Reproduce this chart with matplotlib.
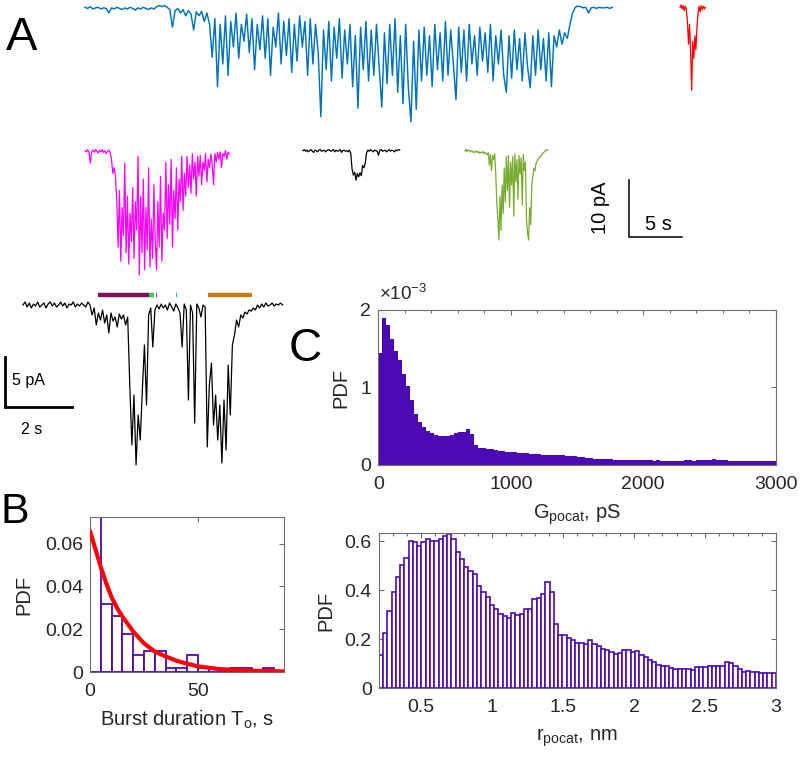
import numpy as np
import matplotlib
matplotlib.use('Agg')
import matplotlib.pyplot as plt
from matplotlib.ticker import MultipleLocator

plt.rcParams['font.family'] = ['Liberation Sans', 'DejaVu Sans']
plt.rcParams['mathtext.fontset'] = 'custom'
plt.rcParams['mathtext.rm'] = 'Liberation Sans'
plt.rcParams['mathtext.it'] = 'Liberation Sans:italic'
plt.rcParams['mathtext.bf'] = 'Liberation Sans:bold'

# ---------------- DATA ----------------
# Panel A, top row traces: current (pA), sampled at fixed dt (s)
blue_dt = 0.25
blue_pA = [
    0.0, -0.2, 0.1, -0.3, -0.1, 0.0, -0.3, -0.1, -0.2, -1.0, -0.1, -0.3,
    0.0, -0.2, -0.4, -0.1, -0.3, 0.0, -0.2, -0.5, -0.1, -0.3, 0.0, -0.2,
    -0.4, -0.1, -0.3, 0.1, 0.3, 0.1, 0.3, 0.0, -0.4, -3.5, -0.6, -0.2,
    -1.0, -0.4, -1.5, -0.6, -1.2, -4.0, -0.8, -1.5, -0.7, -2.5, -1.0, -3.0,
    -8.8, -2.0, -14.0, -3.0, -10.0, -1.5, -12.0, -2.5, -7.0, -1.0, -9.0, -3.0,
    -6.0, -1.2, -8.0, -2.0, -11.0, -3.0, -7.5, -1.5, -9.0, -2.0, -12.0, -3.5,
    -7.0, -1.0, -10.0, -2.5, -8.5, -2.0, -11.5, -3.0, -9.5, -1.5, -7.0, -2.5,
    -12.0, -2.0, -10.0, -3.0, -8.0, -19.3, -4.0, -11.0, -2.5, -13.0, -3.5, -9.0,
    -2.0, -12.5, -4.0, -10.0, -3.0, -14.0, -5.0, -17.8, -3.5, -11.0, -2.5, -13.0,
    -4.0, -12.0, -3.0, -10.5, -17.6, -4.5, -13.5, -3.0, -12.0, -2.0, -15.0, -5.0,
    -17.0, -3.0, -14.0, -20.2, -6.0, -18.0, -4.0, -13.0, -3.5, -12.0, -5.0, -14.0,
    -3.0, -11.0, -4.5, -13.0, -2.5, -12.0, -4.0, -10.0, -16.3, -3.5, -11.5, -4.0,
    -13.0, -3.0, -10.0, -5.0, -12.0, -3.5, -9.5, -4.5, -11.5, -3.0, -13.0, -5.0,
    -10.0, -4.0, -12.0, -15.0, -5.0, -12.5, -4.0, -11.0, -5.5, -13.0, -4.5, -10.5,
    -14.2, -5.0, -12.0, -4.0, -11.0, -5.5, -13.0, -4.5, -14.0, -5.0, -7.0, -4.0,
    -6.5, -4.5, -5.5, -3.0, -1.0, 0.0, 0.2, 0.1, -0.1, 0.0, -1.0, -0.1,
    0.0, -0.2, 0.0, -0.1, -0.1, 0.0, -0.2, 0.0,
]

red_dt = 0.1
red_pA = [0.0, 0.4, -0.3, 0.3, -0.6, 0.2, -0.5, -2.5, -6.5, -3.0, -8.0, -14.6,
          -6.0, -9.0, -5.0, -7.5, -3.5, -1.0, 0.2, -0.8, 0.3, -0.4, 0.2, -0.3, 0.0]

magenta_dt = 0.125
magenta_pA = [
    0.0, -0.2, 0.2, -0.3, -2.2, -0.1, 0.1, -0.3, 0.2, -0.1, -0.4, 0.1, -0.2, 0.2,
    -0.3, 0.0, -0.5, -0.1, 0.1, -0.3,
    -1.5, -4.0, -3.0, -4.5,
    -9.0, -17.0, -7.0, -19.5, -10.0, -15.0, -2.2, -18.0, -8.0, -20.0, -11.0, -16.0,
    -6.5, -19.0, -9.0, -14.0, -1.0,
    -21.9, -8.0, -18.0, -5.0, -21.0, -10.0, -17.5, -3.0, -20.5, -12.0, -19.0, -6.0,
    -16.0, -21.0, -9.0, -17.0, -4.5, -19.5, -11.0, -14.0,
    -2.0, -15.5, -6.0, -13.0, -1.5, -17.0, -7.0, -12.0, -3.0, -14.0, -5.0, -9.0,
    -1.0, -10.5, -4.0,
    -8.0, -1.0, -6.5, -2.5, -7.5, -0.5, -5.0, -2.0, -8.0, -1.0, -4.5, -0.8, -6.0,
    -2.0, -3.5, -0.5, -5.5, -1.5, -3.0, -0.6,
    -2.5, -6.0, -0.5, -2.0, -0.3, -1.5, -0.2, -3.0, -0.5, -1.0, 0.0, -1.5, -0.3, -0.6,
]

black_dt = 0.125
black_pA = [
    0.0, 0.2, -0.1, 0.1, -0.2, 0.0, 0.2, -0.1, -0.3, 0.1, 0.0, -0.2, 0.1, 0.2,
    -0.1, 0.0, 0.1, -0.2, 0.0, 0.2, 0.1, -0.1, 0.0, 0.2, -0.2, 0.1, -0.1, 0.0,
    0.2, -0.3, 0.0, 0.1, -0.1, 0.0, -0.2, 0.1, -0.4,
    -3.2, -4.3, -3.8, -5.2, -4.0, -4.6, -3.9, -4.4, -2.6, -3.0, -2.2,
    -0.3, 0.1, -0.1, 0.2, 0.0, -0.2, 0.1, 0.0, -0.1, -0.8, 0.1, 0.2, -0.1, 0.0,
    0.1, -0.2, 0.0, 0.2, -0.1, 0.1, 0.0, -0.2, 0.1, 0.0, 0.2, 0.1,
]

green_dt = 0.1
green_pA = [
    0.0, 0.3, -0.1, 0.2, 0.0, -0.2, 0.1, 0.0, -0.3, -0.1,
    -0.2, 0.0, -0.3, -0.1, -0.4, -0.2, -0.3, -0.1, -0.5, -0.2,
    -0.4, -0.7, -0.3, -2.5, -0.6, -3.5, -0.8, -1.5, -0.5, -4.0,
    -9.0, -12.0, -15.7, -8.0, -14.0, -6.0, -11.0, -3.0, -9.0, -1.0,
    -7.0, -0.8, -10.0, -2.0, -6.0, -1.0, -11.5, -0.5, -5.5, -1.5,
    -8.5, -0.8, -4.0, -1.2, -9.5, -0.6, -3.5, -2.0, -12.0, -14.5,
    -15.7, -10.0, -13.0, -6.0, -4.5, -3.0, -3.5, -2.2, -1.8, -1.5,
    -1.2, -1.0, -0.8, -0.5, -0.3, -0.1, 0.1, 0.2, 0.1,
]

# Panel A, bottom-left trace
burst_dt = 0.0625
burst_pA = [
    0.0, 0.3, -0.2, 0.2, -0.3, 0.1, -0.1, 0.3, -0.2, 0.0, 0.2, -0.3, 0.1, 0.3,
    -0.1, 0.2, -0.2, 0.0, 0.3, -0.1, 0.2, -0.3, 0.1, 0.0, 0.3, -0.2, 0.1, -0.1,
    0.2, 0.0, -0.2, 0.3, 0.0,
    -1.0, -0.3, -2.0, -0.8, -1.5, -0.5, -1.8, -1.0, -2.8, -0.8, -1.6, -1.2, -2.2,
    -0.9, -1.4, -1.0, -2.0, -1.2,
    -8.0, -14.0, -9.0, -16.0, -11.0, -13.5, -8.5, -4.0, -10.0,
    -1.0, -0.3,
    -4.2, -0.5, 0.0, -0.4, 0.1, -0.3, 0.0, -0.5, 0.2, -0.2, -0.6, 0.1, -0.3, -0.8,
    -4.2, 0.1, -0.5, -9.5, 0.0, -0.8, -11.8, 0.1, -0.3, -1.2, 0.0, -0.2,
    -14.2, -8.0, -5.8, -12.0, -9.0, -13.5, -10.0, -15.8, -9.5, -14.5, -6.0, -11.0,
    -4.0, -3.0, -1.5, -2.2,
    -1.0, -1.3, -0.7, -0.9, -0.5, -0.6, -0.3, -0.5, 0.0, -0.3, 0.1, -0.2, 0.2,
    -0.1, 0.0, 0.2, -0.1, 0.1, 0.0, 0.2, 0.0,
]
seg_start = [2.24, 3.76, 3.97, 4.56, 5.52]
seg_end = [3.76, 3.91, 4.01, 4.60, 6.84]
seg_color = ['#7E1060', '#33CC44', '#A030E0', '#30B4CC', '#CC7A1E']

# Panel B: burst duration histogram
B_bin_width = 5
B_pdf = [0.073, 0.032, 0.026, 0.018, 0.008, 0.010, 0.010, 0.002, 0.002, 0.008,
         0.002, 0.002, 0.0, 0.002, 0.002, 0.0, 0.002, 0.0]
B_fit_x = [0, 2.5, 5, 7.5, 10, 12.5, 15, 20, 25, 30, 35, 40, 45, 50, 55, 60, 70, 80, 90]
B_fit_y = [0.0658, 0.0574, 0.049, 0.0415, 0.035, 0.030, 0.026, 0.019, 0.0135,
           0.0097, 0.0074, 0.0054, 0.004, 0.0028, 0.0021, 0.0015, 0.0009, 0.0006, 0.0004]

# Panel C top: G_pocat PDF (x1e-3), 30 pS bins from 0 to 3000
G_bin_width = 30
G_pdf_e3 = [
    1.45, 1.90, 1.80, 1.62, 1.47, 1.36, 1.18, 1.02, 0.84, 0.66,
    0.56, 0.49, 0.44, 0.41, 0.39, 0.38, 0.37, 0.375, 0.39, 0.41,
    0.42, 0.43, 0.46, 0.40, 0.26, 0.225, 0.22, 0.21, 0.20, 0.19,
    0.18, 0.175, 0.172, 0.17, 0.168, 0.16, 0.158, 0.15, 0.145, 0.14,
    0.138, 0.135, 0.13, 0.128, 0.13, 0.125, 0.128, 0.12, 0.118, 0.11,
    0.105, 0.098, 0.09, 0.086, 0.083, 0.08, 0.078, 0.076, 0.072, 0.07,
    0.067, 0.065, 0.063, 0.062, 0.061, 0.06, 0.06, 0.059, 0.06, 0.058,
    0.06, 0.057, 0.056, 0.057, 0.055, 0.057, 0.058, 0.06, 0.06, 0.058,
    0.06, 0.062, 0.065, 0.07, 0.073, 0.07, 0.063, 0.06, 0.057, 0.054,
    0.052, 0.05, 0.05, 0.048, 0.047, 0.047, 0.046, 0.047, 0.046, 0.047,
]

# Panel C bottom: r_pocat PDF, bins from 0.2 to 3.0
r_start, r_stop = 0.2, 3.0
r_pdf = [
    0.137, 0.227, 0.315, 0.395, 0.455, 0.503, 0.531, 0.600, 0.597, 0.580,
    0.597, 0.610, 0.603, 0.603, 0.610, 0.620, 0.630, 0.610, 0.556, 0.527,
    0.496, 0.477, 0.468, 0.418, 0.395, 0.374, 0.342, 0.322, 0.305, 0.296,
    0.288, 0.307, 0.299, 0.305, 0.323, 0.323, 0.364, 0.367, 0.385, 0.436,
    0.395, 0.262, 0.216, 0.216, 0.205, 0.196, 0.186, 0.186, 0.182, 0.196,
    0.182, 0.173, 0.162, 0.155, 0.148, 0.141, 0.144, 0.158, 0.158, 0.148,
    0.151, 0.134, 0.127, 0.114, 0.107, 0.097, 0.093, 0.090, 0.084, 0.079,
    0.079, 0.077, 0.079, 0.075, 0.088, 0.086, 0.088, 0.093, 0.090, 0.090,
    0.090, 0.107, 0.103, 0.093, 0.077, 0.066, 0.071, 0.066, 0.066, 0.064,
    0.064, 0.064, 0.064,
]

# ---------------- STYLE / LAYOUT ----------------
W, H = 800, 760
PURPLE = '#4B0AB4'
AX_C = '#6e6e6e'
TXT = '#262626'
TICK_FS = 14
LAB_FS = 14.5
PXS_TOP, PXPA_TOP = 10.6, 5.67      # pixels per s, per pA (top traces)
PXS_BOT, PXPA_BOT = 33.5, 10.0      # bottom-left trace

fig = plt.figure(figsize=(W / 100, H / 100), dpi=100)


def rect(l, t, r, b):
    return [l / W, 1 - b / H, (r - l) / W, (b - t) / H]


def trace(x0, base, dt, vals, px_s, px_pA, color, lw, top_extra=None):
    v = np.asarray(vals, dtype=float)
    t = np.arange(len(v)) * dt
    vmax = v.max() if top_extra is None else max(v.max(), top_extra)
    vmin = v.min()
    ax = fig.add_axes(rect(x0, base - vmax * px_pA, x0 + t[-1] * px_s, base - vmin * px_pA))
    ax.plot(t, v, color=color, lw=lw, clip_on=False)
    ax.set_xlim(0, t[-1])
    ax.set_ylim(vmin, vmax)
    ax.axis('off')
    return ax


trace(85, 7.3, blue_dt, blue_pA, PXS_TOP, PXPA_TOP, '#0072BD', 1.05)
trace(680, 7.3, red_dt, red_pA, PXS_TOP, PXPA_TOP, '#FF0000', 0.9)
trace(85, 150.7, magenta_dt, magenta_pA, PXS_TOP, PXPA_TOP, '#FF00FF', 0.9)
trace(303, 150.7, black_dt, black_pA, PXS_TOP, PXPA_TOP, '#000000', 0.9)
trace(465, 151.0, green_dt, green_pA, PXS_TOP, PXPA_TOP, '#77AC30', 0.9)
axb = trace(23, 305, burst_dt, burst_pA, PXS_BOT, PXPA_BOT, '#000000', 0.9, top_extra=1.2)
for s0, s1, c in zip(seg_start, seg_end, seg_color):
    axb.plot([s0, s1], [1.0, 1.0], color=c, lw=3.2, solid_capstyle='butt', clip_on=False)


def style(ax):
    for s in ax.spines.values():
        s.set_color(AX_C)
        s.set_linewidth(0.8)
    ax.tick_params(which='both', direction='in', top=True, right=True,
                   color=AX_C, labelcolor=TXT, labelsize=TICK_FS, width=0.8)
    ax.tick_params(which='major', length=3.5)
    ax.tick_params(which='minor', length=2.5)
    ax.tick_params(axis='x', pad=8)
    ax.tick_params(axis='y', pad=5)


# Panel B
axB = fig.add_axes(rect(90, 516.7, 284.3, 672.3))
B_edges = np.arange(len(B_pdf) + 1) * B_bin_width
axB.bar(B_edges[:-1], B_pdf, width=B_bin_width, align='edge', facecolor='white',
        edgecolor=PURPLE, linewidth=1.3, zorder=2)
axB.plot(B_fit_x, B_fit_y, color='#FF0000', lw=3, zorder=3, solid_capstyle='round')
axB.set_xlim(0, 90)
axB.set_ylim(0, 0.0725)
axB.set_xticks([0, 50])
axB.set_yticks([0, 0.02, 0.04, 0.06])
axB.set_yticklabels(['0', '0.02', '0.04', '0.06'])
style(axB)
axB.set_xlabel('Burst duration T$_{\\mathrm{o}}$, s', fontsize=LAB_FS, color=TXT, va='top')
axB.xaxis.set_label_coords((187 - 90) / (284.3 - 90), (672.3 - 709) / (672.3 - 516.7))
axB.set_ylabel('PDF', fontsize=LAB_FS, color=TXT, va='center')
axB.yaxis.set_label_coords((24 - 90) / (284.3 - 90), 0.5)

# Panel C top
axG = fig.add_axes(rect(378.3, 310, 775.7, 465))
G_edges = np.arange(len(G_pdf_e3) + 1) * G_bin_width
axG.stairs(np.asarray(G_pdf_e3) * 1e-3, G_edges, fill=True, color=PURPLE, zorder=2)
axG.set_xlim(0, 3000)
axG.set_ylim(0, 2e-3)
axG.set_xticks([0, 1000, 2000, 3000])
axG.xaxis.set_minor_locator(MultipleLocator(200))
axG.set_yticks([0, 1e-3, 2e-3])
axG.set_yticklabels(['0', '1', '2'])
style(axG)
axG.set_xlabel('G$_{\\mathrm{pocat}}$, pS', fontsize=LAB_FS, color=TXT, va='top')
axG.xaxis.set_label_coords((577 - 378.3) / (775.7 - 378.3), (465 - 503) / (465 - 310))
axG.set_ylabel('PDF', fontsize=LAB_FS, color=TXT, va='center')
axG.yaxis.set_label_coords((341 - 378.3) / (775.7 - 378.3), 0.5)

# Panel C bottom
axR = fig.add_axes(rect(378.7, 533.3, 776, 688.3))
r_w = (r_stop - r_start) / len(r_pdf)
r_edges = r_start + np.arange(len(r_pdf) + 1) * r_w
axR.bar(r_edges[:-1], r_pdf, width=r_w, align='edge', facecolor='white',
        edgecolor=PURPLE, linewidth=1.2, zorder=2)
axR.set_xlim(0.2, 3.0)
axR.set_ylim(0, 0.633)
axR.set_xticks([0.5, 1, 1.5, 2, 2.5, 3])
axR.set_xticklabels(['0.5', '1', '1.5', '2', '2.5', '3'])
axR.xaxis.set_minor_locator(MultipleLocator(0.1))
axR.set_yticks([0, 0.2, 0.4, 0.6])
axR.set_yticklabels(['0', '0.2', '0.4', '0.6'])
style(axR)
axR.set_xlabel('r$_{\\mathrm{pocat}}$, nm', fontsize=LAB_FS, color=TXT, va='top')
axR.xaxis.set_label_coords((577 - 378.7) / (776 - 378.7), (688.3 - 727) / (688.3 - 533.3))
axR.set_ylabel('PDF', fontsize=LAB_FS, color=TXT, va='center')
axR.yaxis.set_label_coords((326 - 378.7) / (776 - 378.7), 0.5)

# Overlay: panel letters, scale bars, exponent
ov = fig.add_axes([0, 0, 1, 1])
ov.set_xlim(0, W)
ov.set_ylim(H, 0)
ov.axis('off')
ov.patch.set_visible(False)
ov.text(6, 50, 'A', fontsize=34, ha='left', va='baseline', color='black')
ov.text(1, 523, 'B', fontsize=31, ha='left', va='baseline', color='black')
ov.text(289, 361, 'C', fontsize=33, ha='left', va='baseline', color='black')
ov.text(379, 300, '$\\times10^{-3}$', fontsize=13.5, ha='left', va='baseline', color=TXT)

# top scale bar: 10 pA, 5 s
sx, sy = 628.7, 236.7
ov.plot([sx, sx, sx + 5 * PXS_TOP], [sy - 10 * PXPA_TOP, sy, sy], color='black', lw=1.1,
        solid_joinstyle='miter')
ov.text(600, 208, '10 pA', rotation=90, fontsize=14.5, ha='center', va='center', color='black')
ov.text(658, 224, '5 s', fontsize=14.5, ha='center', va='center', color='black')

# bottom scale bar: 5 pA, 2 s
bx, by = 4.5, 406.7
ov.plot([bx, bx, bx + 2 * PXS_BOT], [by - 5 * PXPA_BOT, by, by], color='black', lw=2,
        solid_joinstyle='miter')
ov.text(12, 381, '5 pA', fontsize=11.5, ha='left', va='center', color='black')
ov.text(32, 429, '2 s', fontsize=11.5, ha='center', va='center', color='black')

fig.savefig('out.png', dpi=100)
